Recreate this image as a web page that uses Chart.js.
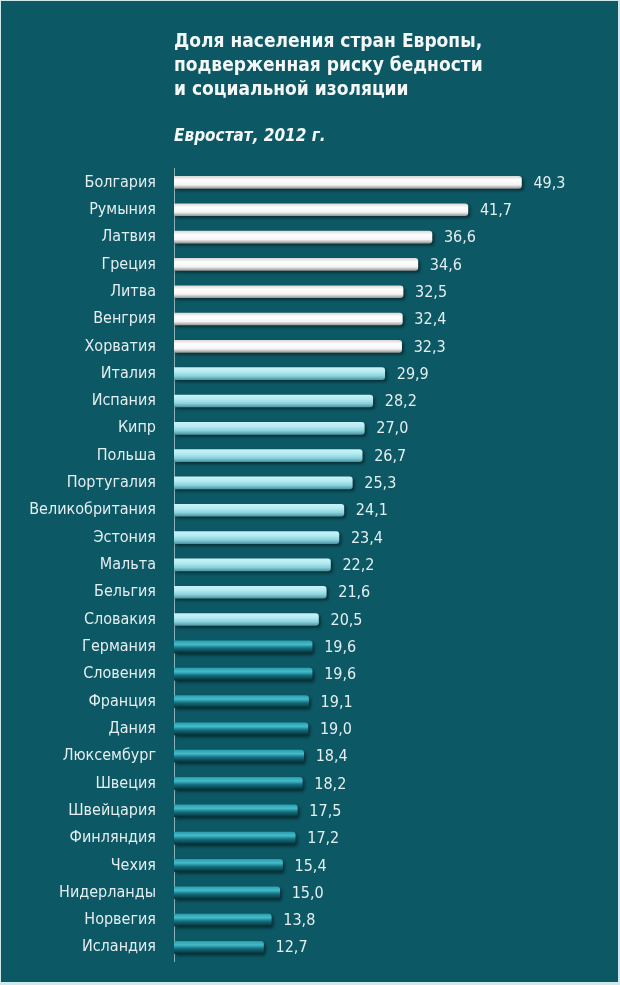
<!DOCTYPE html>
<html>
<head>
<meta charset="utf-8">
<script src="https://cdn.jsdelivr.net/npm/chart.js@4.4.1/dist/chart.umd.min.js"></script>
<style>
  body { margin: 0; background: #cfe8ec; }
  #wrap { position: absolute; left: 1px; top: 1px; width: 617px; height: 981px; background: #0c5864; }
</style>
</head>
<body>
<div id="wrap"><canvas id="myChart" width="617" height="981"></canvas></div>
<script>
// данные: доля населения под риском бедности, %
var strany = ['Болгария', 'Румыния', 'Латвия', 'Греция', 'Литва', 'Венгрия', 'Хорватия',
  'Италия', 'Испания', 'Кипр', 'Польша', 'Португалия', 'Великобритания', 'Эстония',
  'Мальта', 'Бельгия', 'Словакия', 'Германия', 'Словения', 'Франция', 'Дания',
  'Люксембург', 'Швеция', 'Швейцария', 'Финляндия', 'Чехия', 'Нидерланды', 'Норвегия', 'Исландия']
var valores = [49.3, 41.7, 36.6, 34.6, 32.5, 32.4, 32.3,
  29.9, 28.2, 27.0, 26.7, 25.3, 24.1, 23.4,
  22.2, 21.6, 20.5, 19.6, 19.6, 19.1, 19.0,
  18.4, 18.2, 17.5, 17.2, 15.4, 15.0, 13.8, 12.7]
var titulo = ['Доля населения стран Европы,', 'подверженная риску бедности', 'и социальной изоляции']
var fuente = 'Евростат, 2012 г.'

var fuenteNarrow = '"Liberation Sans Narrow", "DejaVu Sans Condensed", Arial, sans-serif'

// цвет полосы по значению
function colorBarra(ctx) {
  var chart = ctx.chart
  var v = valores[ctx.dataIndex]
  if (!chart.chartArea || !chart.scales.y) return '#ffffff'
  var yc = chart.scales.y.getPixelForValue(ctx.dataIndex)
  var g = chart.ctx.createLinearGradient(0, yc - 6, 0, yc + 6)
  if (v > 30) {
    g.addColorStop(0, '#d9d9d9')
    g.addColorStop(0.3, '#ffffff')
    g.addColorStop(0.7, '#f4f4f4')
    g.addColorStop(1, '#9a9a9a')
  } else if (v > 20) {
    g.addColorStop(0, '#c9f1f6')
    g.addColorStop(0.35, '#b4ebf2')
    g.addColorStop(0.7, '#8ad2dc')
    g.addColorStop(1, '#4d98a4')
  } else {
    g.addColorStop(0, '#2b9fae')
    g.addColorStop(0.3, '#45bccb')
    g.addColorStop(0.6, '#136f7e')
    g.addColorStop(1, '#06323b')
  }
  return g
}

var sombra = {
  id: 'sombra',
  beforeDatasetsDraw(chart) {
    var c = chart.ctx
    c.save()
    c.shadowColor = 'rgba(0,0,0,0.45)'
    c.shadowBlur = 3
    c.shadowOffsetX = 2
    c.shadowOffsetY = 2
  },
  afterDatasetsDraw(chart) {
    chart.ctx.restore()
    var c = chart.ctx
    var meta = chart.getDatasetMeta(0)
    c.save()
    c.font = '16px ' + fuenteNarrow
    c.fillStyle = '#e4eef0'
    c.textAlign = 'left'
    c.textBaseline = 'middle'
    meta.data.forEach(function (bar, i) {
      c.fillText(valores[i].toFixed(1).replace('.', ','), bar.x + 12, bar.y + 1)
    })
    c.restore()
  }
}

var ctx = document.getElementById('myChart')
var grafico = new Chart(ctx, {
  type: 'bar',
  data: {
    labels: strany,
    datasets: [{
      data: valores,
      backgroundColor: colorBarra,
      borderWidth: 0,
      borderRadius: { topRight: 3, bottomRight: 3 },
      borderSkipped: 'start',
      barThickness: 12
    }]
  },
  options: {
    indexAxis: 'y',
    responsive: false,
    animation: false,
    layout: { padding: { left: 0, right: 0, top: 29, bottom: 21 } },
    plugins: {
      legend: { display: false },
      tooltip: { enabled: false },
      title: {
        display: true,
        text: titulo,
        align: 'start',
        fullSize: false,
        color: '#f4f8f8',
        font: { family: fuenteNarrow, size: 19, weight: 'bold', lineHeight: 1.27 },
        padding: { top: 0, bottom: 24 }
      },
      subtitle: {
        display: true,
        text: fuente,
        align: 'start',
        fullSize: false,
        color: '#f4f8f8',
        font: { family: fuenteNarrow, size: 17, weight: 'bold', style: 'italic' },
        padding: { top: 0, bottom: 22 }
      }
    },
    scales: {
      x: {
        display: false,
        min: 0,
        max: 63
      },
      y: {
        afterFit: function (s) {
          s.width = 173
          // отступ подписей не должен сжимать область графика
          s.paddingTop = 0
          s.paddingBottom = 0
        },
        grid: { display: false, drawTicks: false },
        border: { display: true, color: 'rgba(190,215,220,0.7)', width: 1 },
        ticks: {
          color: '#e4eef0',
          padding: 18,
          font: { family: fuenteNarrow, size: 16 }
        }
      }
    }
  },
  plugins: [sombra]
})
</script>
</body>
</html>
